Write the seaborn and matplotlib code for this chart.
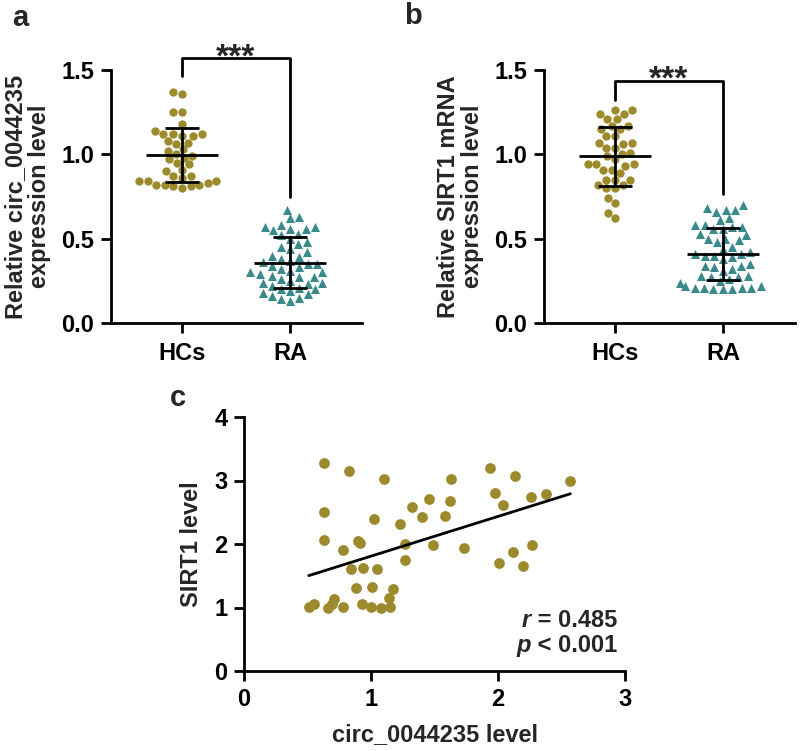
import numpy as np
import pandas as pd
import matplotlib
matplotlib.use("Agg")
import matplotlib.pyplot as plt
import seaborn as sns

sns.set_style("ticks")
plt.rcParams['font.family'] = ['Liberation Sans', 'DejaVu Sans']
plt.rcParams['font.weight'] = 'bold'
plt.rcParams['axes.labelweight'] = 'bold'

GOLD = '#9d8a2c'
TEAL = '#3a8a8c'

groups = ['HCs', 'RA']

# panel a: circ_0044235 expression
hcs_a = [1.37, 1.36, 1.25, 1.25, 1.18, 1.14, 1.12, 1.12, 1.12, 1.11, 1.11, 1.08, 1.07,
         1.06, 1.03, 1.02, 1.00, 0.99, 0.98, 0.97, 0.95, 0.94, 0.91, 0.90, 0.87, 0.87,
         0.86, 0.84, 0.84, 0.84, 0.83, 0.82, 0.82, 0.82, 0.81, 0.81, 0.80]
ra_a = [0.67, 0.63, 0.62, 0.58, 0.57, 0.57, 0.56, 0.56, 0.55, 0.53, 0.52, 0.50, 0.48,
        0.47, 0.45, 0.44, 0.42, 0.40, 0.39, 0.38, 0.37, 0.36, 0.35, 0.35, 0.34, 0.33,
        0.32, 0.31, 0.30, 0.30, 0.29, 0.28, 0.27, 0.27, 0.26, 0.25, 0.24, 0.24, 0.23,
        0.22, 0.21, 0.20, 0.20, 0.19, 0.18, 0.17, 0.16, 0.15, 0.14, 0.13]

# panel b: SIRT1 mRNA expression
hcs_b = [1.26, 1.26, 1.24, 1.24, 1.21, 1.21, 1.17, 1.17, 1.15, 1.15, 1.11, 1.11, 1.07,
         1.07, 1.06, 1.04, 1.04, 1.01, 1.00, 0.99, 0.97, 0.94, 0.94, 0.94, 0.93, 0.91,
         0.91, 0.89, 0.85, 0.85, 0.85, 0.82, 0.82, 0.80, 0.80, 0.74, 0.71, 0.65, 0.62]
ra_b = [0.70, 0.68, 0.67, 0.67, 0.66, 0.62, 0.61, 0.58, 0.58, 0.57, 0.57, 0.56, 0.56,
        0.53, 0.52, 0.50, 0.50, 0.49, 0.48, 0.45, 0.44, 0.42, 0.41, 0.41, 0.40, 0.40,
        0.39, 0.38, 0.35, 0.34, 0.34, 0.33, 0.32, 0.31, 0.28, 0.28, 0.27, 0.27, 0.26,
        0.25, 0.24, 0.22, 0.22, 0.21, 0.21, 0.21, 0.21, 0.20, 0.20, 0.20]

# panel c: correlation
circ_level = [0.63, 0.83, 1.10, 0.63, 0.63, 0.78, 0.90, 0.91, 1.02, 0.84, 0.94, 1.05,
              0.88, 1.01, 1.17, 1.14, 0.51, 0.55, 0.66, 0.69, 0.71, 0.78, 0.93, 1.00,
              1.08, 1.15, 1.23, 1.27, 1.27, 1.32, 1.40, 1.46, 1.49, 1.58, 1.62, 1.63,
              1.73, 1.94, 1.98, 2.04, 2.01, 2.13, 2.12, 2.20, 2.26, 2.27, 2.38, 2.57]
sirt1_level = [3.27, 3.15, 3.02, 2.51, 2.07, 1.90, 2.04, 2.02, 2.39, 1.60, 1.62, 1.60,
               1.30, 1.32, 1.29, 1.15, 1.01, 1.05, 1.00, 1.05, 1.14, 1.01, 1.05, 1.01,
               0.99, 1.01, 2.31, 2.00, 1.75, 2.58, 2.43, 2.71, 1.98, 2.44, 2.67, 3.02,
               1.94, 3.20, 2.81, 2.62, 1.70, 3.07, 1.88, 1.66, 2.74, 1.98, 2.79, 2.99]

FS = 17

fig = plt.figure(figsize=(8, 7.51), dpi=100)
W, H = 800, 751


def px_axes(x0, y0, x1, y1):
    return fig.add_axes([x0 / W, 1 - y1 / H, (x1 - x0) / W, (y1 - y0) / H])


def style_axes(ax):
    for s in ['top', 'right']:
        ax.spines[s].set_visible(False)
    for s in ['left', 'bottom']:
        ax.spines[s].set_linewidth(2)
        ax.spines[s].set_color('black')
    ax.tick_params(width=2, length=7, labelsize=FS, colors='black', direction='out', pad=5)
    for lab in ax.get_xticklabels() + ax.get_yticklabels():
        lab.set_fontweight('bold')


def dot_panel(ax, hcs, ra, ylabel, br_top, br_left, br_right, star_y):
    df_h = pd.DataFrame({'group': 'HCs', 'value': hcs})
    df_r = pd.DataFrame({'group': 'RA', 'value': ra})
    sns.swarmplot(data=df_h, x='group', y='value', order=groups, color=GOLD,
                  marker='o', size=6, linewidth=0, ax=ax)
    sns.swarmplot(data=df_r, x='group', y='value', order=groups, color=TEAL,
                  marker='^', size=6.5, linewidth=0, ax=ax)
    for i, vals in enumerate([hcs, ra]):
        m, sd = np.mean(vals), np.std(vals, ddof=1)
        ax.hlines(m, i - 0.33, i + 0.33, color='black', lw=2, zorder=5)
        ax.errorbar(i, m, yerr=sd, color='black', lw=2, capsize=12, capthick=2, zorder=5)
    ax.plot([0, 0, 1, 1], [br_left, br_top, br_top, br_right], color='black', lw=2,
            clip_on=False)
    ax.text(0.5, star_y, '***', ha='center', va='baseline', fontsize=24, fontweight='bold',
            clip_on=False)
    ax.set_xlim(-0.657, 1.667)
    ax.set_ylim(0, 1.5)
    ax.set_yticks([0, 0.5, 1.0, 1.5])
    ax.set_yticklabels(['0.0', '0.5', '1.0', '1.5'])
    ax.set_xlabel('')
    ax.set_ylabel(ylabel, fontsize=FS, fontweight='bold', linespacing=1.05)
    ax.yaxis.set_label_coords(-0.24, 0.5)
    style_axes(ax)
    ax.tick_params(axis='x', pad=7)


ax_a = px_axes(111, 70, 362, 323)
dot_panel(ax_a, hcs_a, ra_a, 'Relative circ_0044235\nexpression level',
          1.571, 1.464, 0.747, 1.523)

ax_b = px_axes(544, 70, 795, 323)
dot_panel(ax_b, hcs_b, ra_b, 'Relative SIRT1 mRNA\nexpression level',
          1.434, 1.322, 0.765, 1.387)

# panel c
ax_c = px_axes(244, 417, 625, 671)
sns.regplot(x=circ_level, y=sirt1_level, ci=None, ax=ax_c,
            scatter_kws=dict(s=60, color=GOLD, linewidths=0, alpha=1),
            line_kws=dict(color='black', lw=2))
ax_c.set_xlim(0, 3)
ax_c.set_ylim(0, 4)
ax_c.set_xticks([0, 1, 2, 3])
ax_c.set_yticks([0, 1, 2, 3, 4])
ax_c.set_xlabel('circ_0044235 level', fontsize=FS, fontweight='bold')
ax_c.set_ylabel('SIRT1 level', fontsize=FS, fontweight='bold')
ax_c.xaxis.set_label_coords(0.5, -0.205)
ax_c.yaxis.set_label_coords(-0.108, 0.5)
style_axes(ax_c)

t1 = ax_c.text(0.98, 0.20, ' = 0.485', transform=ax_c.transAxes, ha='right', va='center',
               fontsize=FS, fontweight='bold')
ax_c.annotate('r', xy=(0, 0.5), xycoords=t1, ha='right', va='center', fontsize=FS,
              fontweight='bold', fontstyle='italic')
t2 = ax_c.text(0.98, 0.10, ' < 0.001', transform=ax_c.transAxes, ha='right', va='center',
               fontsize=FS, fontweight='bold')
ax_c.annotate('p', xy=(0, 0.5), xycoords=t2, ha='right', va='center', fontsize=FS,
              fontweight='bold', fontstyle='italic')

fig.text(20 / W, 1 - 18 / H, 'a', fontsize=21, fontweight='bold', ha='center', va='center')
fig.text(413 / W, 1 - 16 / H, 'b', fontsize=21, fontweight='bold', ha='center', va='center')
fig.text(178 / W, 1 - 398 / H, 'c', fontsize=21, fontweight='bold', ha='center', va='center')

fig.savefig('out.png', dpi=100)
